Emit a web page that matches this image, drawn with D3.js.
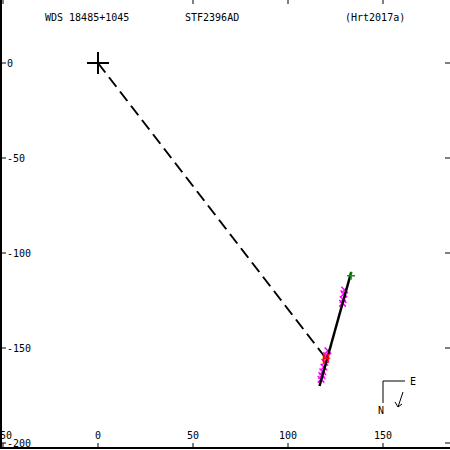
<!DOCTYPE html>
<meta charset="utf-8">
<style>
body { margin: 0; background: #fff; overflow: hidden; }
text { font-family: "DejaVu Sans Mono", monospace; font-size: 10px; fill: #000; }
</style>
<body>
<script src="https://d3js.org/d3.v7.min.js"></script>
<script>

// tick values
var xTicks = [-50, 0, 50, 100, 150];
var yTicks = [0, -50, -100, -150, -200];

// header
var titles = ["WDS 18485+1045", "STF2396AD", "(Hrt2017a)"];

// primary star, predicted position, last obs, linear fit ends
var primary = [0, 0];
var predicted = [120, -155.5];
var lastObs = [133.2, -112];
var fitLine = [[116.6, -170], [133.3, -110]];

// measurements (x, y)
var obs = [
  [129.8, -119.5], [129.4, -121.5], [129.0, -124.5], [128.7, -126.5],
  [121.0, -151.5], [120.3, -154], [119.4, -157.5], [118.9, -160],
  [118.3, -162.5], [117.8, -164.5], [117.4, -166.5]
];

var W = 450, H = 450;

var x = d3.scaleLinear().domain([0, 150]).range([98, 383]);
var y = d3.scaleLinear().domain([0, -200]).range([63, 443]);

var svg = d3.select("body").append("svg")
    .attr("width", W)
    .attr("height", H);

// frame: left and bottom lines
svg.append("line").attr("x1", 1).attr("x2", 1).attr("y1", 0).attr("y2", 449)
    .attr("stroke", "#000").attr("stroke-width", 2);
svg.append("line").attr("x1", 0).attr("x2", 450).attr("y1", 448).attr("y2", 448)
    .attr("stroke", "#000").attr("stroke-width", 2);

// x ticks bottom + top
xTicks.forEach(function(v) {
  svg.append("line").attr("x1", x(v)).attr("x2", x(v)).attr("y1", 443).attr("y2", 448)
      .attr("stroke", "#000");
  if (v !== 0)
    svg.append("line").attr("x1", x(v)).attr("x2", x(v)).attr("y1", 0).attr("y2", 4)
        .attr("stroke", "#000");
  svg.append("text").attr("x", x(v)).attr("y", 439)
      .attr("text-anchor", "middle").text(v);
});

// y ticks left + right
yTicks.forEach(function(v) {
  svg.append("line").attr("x1", 1).attr("x2", 6).attr("y1", y(v)).attr("y2", y(v))
      .attr("stroke", "#000");
  svg.append("line").attr("x1", 445).attr("x2", 450).attr("y1", y(v)).attr("y2", y(v))
      .attr("stroke", "#000");
  svg.append("text").attr("x", 7).attr("y", y(v) + 4).text(v);
});

// header text
svg.append("text").attr("x", 45).attr("y", 21).text(titles[0]);
svg.append("text").attr("x", 185).attr("y", 21).text(titles[1]);
svg.append("text").attr("x", 345).attr("y", 21).text(titles[2]);

// dashed line primary -> predicted
svg.append("line")
    .attr("x1", x(primary[0])).attr("y1", y(primary[1]))
    .attr("x2", x(predicted[0])).attr("y2", y(predicted[1]))
    .attr("stroke", "#000").attr("stroke-width", 2)
    .attr("stroke-dasharray", "12,6");

// measurements
var sym = d3.symbol().type(d3.symbolTimes).size(30);
svg.selectAll(".obs").data(obs).enter().append("path")
    .attr("class", "obs")
    .attr("d", sym)
    .attr("transform", function(d) { return "translate(" + x(d[0]) + "," + y(d[1]) + ")"; })
    .attr("fill", "none").attr("stroke", "#ff00ff").attr("stroke-width", 1.5);

// linear fit
svg.append("line")
    .attr("x1", x(fitLine[0][0])).attr("y1", y(fitLine[0][1]))
    .attr("x2", x(fitLine[1][0])).attr("y2", y(fitLine[1][1]))
    .attr("stroke", "#000").attr("stroke-width", 2.5);

// last observation, green +
var gx = x(lastObs[0]), gy = y(lastObs[1]);
svg.append("path")
    .attr("d", "M" + (gx - 4) + "," + gy + "H" + (gx + 4) + "M" + gx + "," + (gy - 4) + "V" + (gy + 4))
    .attr("stroke", "#00a000").attr("stroke-width", 1.5);

// predicted position
svg.append("text").attr("x", x(predicted[0])).attr("y", y(predicted[1]) + 5)
    .attr("text-anchor", "middle")
    .style("fill", "#ff0000").style("font-weight", "bold").style("font-size", "13px")
    .text("H");

// primary cross
var px = x(primary[0]), py = y(primary[1]);
svg.append("path")
    .attr("d", "M" + (px - 11) + "," + py + "H" + (px + 11) + "M" + px + "," + (py - 11) + "V" + (py + 11))
    .attr("stroke", "#000").attr("stroke-width", 2);

// compass
svg.append("path").attr("d", "M405,381H383V403")
    .attr("fill", "none").attr("stroke", "#000");
svg.append("text").attr("x", 410).attr("y", 385).text("E");
svg.append("text").attr("x", 378).attr("y", 414).text("N");
svg.append("path").attr("d", "M403,392L398,407M395,402L398,407L402,404")
    .attr("fill", "none").attr("stroke", "#000");

</script>
</body>
